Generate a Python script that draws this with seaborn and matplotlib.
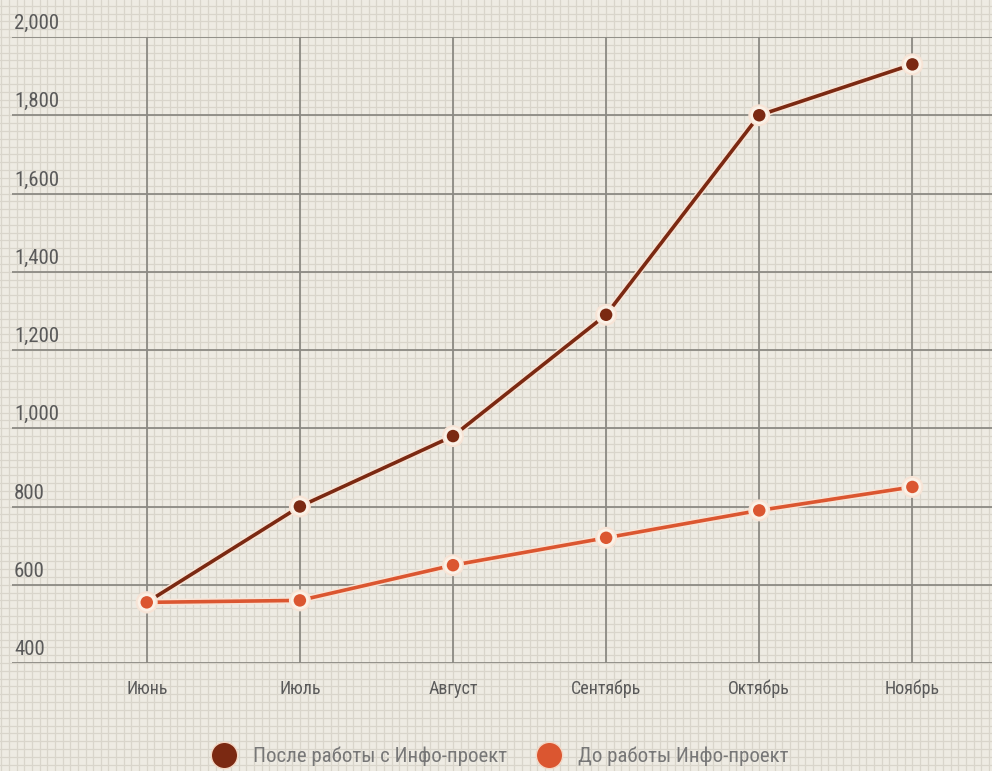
import matplotlib
matplotlib.use("Agg")
import matplotlib.pyplot as plt
import matplotlib.patheffects as pe
from matplotlib.lines import Line2D
from matplotlib.ticker import MultipleLocator
from matplotlib import font_manager
import pandas as pd
import seaborn as sns

# data
months = ["Июнь", "Июль", "Август", "Сентябрь", "Октябрь", "Ноябрь"]
after_vals = [555, 800, 980, 1290, 1800, 1930]
before_vals = [555, 560, 650, 720, 790, 850]
series_names = ["После работы с Инфо-проект", "До работы Инфо-проект"]
y_ticks = [400, 600, 800, 1000, 1200, 1400, 1600, 1800, 2000]

colors = {series_names[0]: "#7b2912", series_names[1]: "#db5630"}
bg = "#eeebe3"

sns.set_theme(style="white")
fam = "DejaVu Sans"
for cand in ["Liberation Sans Narrow", "Roboto Condensed", "Open Sans Condensed"]:
    try:
        font_manager.findfont(cand, fallback_to_default=False)
        fam = cand
        break
    except Exception:
        pass
plt.rcParams["font.family"] = [fam, "DejaVu Sans"]

df = pd.DataFrame({
    "month": months * 2,
    "value": after_vals + before_vals,
    "series": [series_names[0]] * len(months) + [series_names[1]] * len(months),
})

W, H = 992, 771
fig = plt.figure(figsize=(W / 100, H / 100), dpi=100, facecolor=bg)

# main axes placement (pixels)
left_px, right_px, top_px, bottom_px = 12, 992, 37, 663
xlim = (-0.88, 5.52)
ylim = (400, 2000)
ax_pos = [left_px / W, 1 - bottom_px / H, (right_px - left_px) / W, (bottom_px - top_px) / H]

# graph-paper background over the whole figure, same scale as the data
xu = (xlim[1] - xlim[0]) / (right_px - left_px)
yu = (ylim[1] - ylim[0]) / (bottom_px - top_px)
bga = fig.add_axes([0, 0, 1, 1], zorder=0)
bga.set_facecolor(bg)
bga.set_xlim(xlim[0] - left_px * xu, xlim[1] + (W - right_px) * xu)
bga.set_ylim(ylim[0] - (H - bottom_px) * yu, ylim[1] + top_px * yu)
bga.xaxis.set_major_locator(MultipleLocator(0.05))
bga.yaxis.set_major_locator(MultipleLocator(20))
bga.grid(True, color="#d9d5cb", linewidth=0.9)
bga.tick_params(left=False, bottom=False, labelleft=False, labelbottom=False)
for s in bga.spines.values():
    s.set_visible(False)

ax = fig.add_axes(ax_pos, zorder=1)
ax.patch.set_alpha(0)
sns.lineplot(data=df, x="month", y="value", hue="series", palette=colors,
             marker="o", markersize=11, markeredgecolor="#fbf1e6",
             markeredgewidth=2, linewidth=2.6, legend=False, ax=ax, sort=False)
for ln in ax.lines:
    ln.set_path_effects([pe.Stroke(linewidth=4.8, foreground="#f7e4d6"), pe.Normal()])
    ln.set_zorder(5)

ax.set_xlim(*xlim)
ax.set_ylim(*ylim)
ax.set_yticks(y_ticks)
ax.set_xticks(range(len(months)))
ax.grid(True, color="#8c8a84", linewidth=1.3)
ax.set_axisbelow(True)
ax.tick_params(left=False, bottom=False, labelleft=False)
ax.tick_params(axis="x", pad=6, labelsize=13, labelcolor="#5a5a5a")
ax.set_xlabel("")
ax.set_ylabel("")
for s in ax.spines.values():
    s.set_visible(False)

for v in y_ticks:
    t = ax.text(0.002, v, f"{v:,}", transform=ax.get_yaxis_transform(),
                ha="left", va="bottom", fontsize=15, color="#5a5a5a")
    # lift the label a little above its grid line
    t.set_position((0.002, v + 10))

handles = [Line2D([], [], linestyle="", marker="o", markersize=19,
                  color=colors[n], markeredgecolor="#f3d6c4", markeredgewidth=1)
           for n in series_names]
fig.legend(handles, series_names, loc="center", bbox_to_anchor=(0.5, 0.019),
           ncol=2, frameon=False, fontsize=15, labelcolor="#777777",
           handletextpad=0.4, columnspacing=1.0)

fig.savefig("out.png", dpi=100, facecolor=bg)
